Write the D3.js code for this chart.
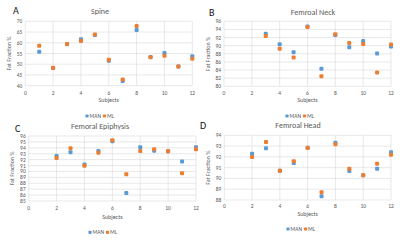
<!DOCTYPE html>
<html>
<head>
<meta charset="utf-8">
<script src="https://cdn.jsdelivr.net/npm/d3@7"></script>
<style>
  body { margin: 0; background: #fff; }
  svg { font-family: Calibri, "Liberation Sans", "DejaVu Sans", sans-serif; }
  .grid line { stroke: #d9d9d9; stroke-width: 0.6; }
  .tick-label { fill: #595959; font-size: 5.5px; }
  .axis-title { fill: #595959; font-size: 6px; }
  .chart-title { fill: #595959; font-size: 8px; }
  .panel-letter { fill: #111; font-size: 10px; }
  .legend-text { fill: #595959; font-size: 5.5px; }
</style>
</head>
<body>
<script>
var width = 400, height = 240;
var colors = {MAN: '#5B9BD5', ML: '#ED7D31'};
var xTicks = [0, 2, 4, 6, 8, 10, 12];

// A - Spine
var spineSubjects = [1, 2, 3, 4, 5, 6, 7, 8, 9, 10, 11, 12];
var spineMAN = [55.8, 48.3, 59.3, 61.6, 63.6, 51.6, 42.2, 66.0, 53.4, 55.2, 49.0, 53.7];
var spineML  = [58.6, 48.4, 59.4, 60.8, 63.9, 52.1, 42.9, 67.8, 53.2, 54.0, 48.9, 52.6];
var spineTicks = [40, 45, 50, 55, 60, 65, 70];

// B - Femroal Neck
var neckSubjects = [3, 4, 5, 6, 7, 8, 9, 10, 11, 12];
var neckMAN = [92.96, 90.34, 88.37, 94.7, 84.35, 92.6, 89.6, 91.16, 88.1, 89.8];
var neckML  = [92.4, 89.27, 87.06, 94.6, 82.46, 92.8, 90.67, 90.42, 83.4, 90.3];
var neckTicks = [80, 82, 84, 86, 88, 90, 92, 94, 96];

// C - Femoral Epiphysis
var epiSubjects = [2, 3, 4, 5, 6, 7, 8, 9, 10, 11, 12];
var epiMAN = [92.62, 93.24, 91.18, 93.46, 95.1, 86.36, 94.08, 93.5, 93.4, 91.7, 94.08];
var epiML  = [92.28, 93.91, 90.95, 93.18, 95.27, 89.51, 93.46, 93.74, 93.4, 89.68, 93.74];
var epiTicks = [85, 86, 87, 88, 89, 90, 91, 92, 93, 94, 95, 96];

// D - Femroal Head
var headSubjects = [2, 3, 4, 5, 6, 7, 8, 9, 10, 11, 12];
var headMAN = [92.3, 92.79, 90.72, 91.43, 92.85, 88.34, 93.32, 90.69, 90.29, 90.9, 92.42];
var headML  = [91.99, 93.38, 90.72, 91.59, 92.82, 88.71, 93.16, 90.9, 90.29, 91.37, 92.2];
var headTicks = [88, 89, 90, 91, 92, 93, 94];

var panels = [
    {letter: 'A', title: 'Spine', subjects: spineSubjects, man: spineMAN, ml: spineML, ticks: spineTicks,
     x0: 25.3, x1: 192.3, y0: 21.3, y1: 85.7, letterX: 13, letterY: 14, titleX: 100, titleY: 14,
     tickY: 95, subjY: 102, legY: 116, legX: 100, ylabX: 11},
    {letter: 'B', title: 'Femroal Neck', subjects: neckSubjects, man: neckMAN, ml: neckML, ticks: neckTicks,
     x0: 224, x1: 391, y0: 21.3, y1: 86.3, letterX: 209, letterY: 16, titleX: 313, titleY: 15,
     tickY: 95, subjY: 102, legY: 116, legX: 300, ylabX: 210},
    {letter: 'C', title: 'Femoral Epiphysis', subjects: epiSubjects, man: epiMAN, ml: epiML, ticks: epiTicks,
     x0: 28.7, x1: 196, y0: 136, y1: 201, letterX: 15, letterY: 132, titleX: 100, titleY: 129,
     tickY: 210, subjY: 218.5, legY: 232.3, legX: 103, ylabX: 14},
    {letter: 'D', title: 'Femroal Head', subjects: headSubjects, man: headMAN, ml: headML, ticks: headTicks,
     x0: 224.3, x1: 391, y0: 135.3, y1: 200, letterX: 200, letterY: 129, titleX: 298, titleY: 128,
     tickY: 208, subjY: 216, legY: 229, legX: 301, ylabX: 210}
];

var svg = d3.select("body").append("svg")
    .attr("width", width)
    .attr("height", height);

panels.forEach(function(p) {
    var xScale = d3.scaleLinear().domain([0, 12]).range([p.x0, p.x1]);
    var yScale = d3.scaleLinear()
        .domain([p.ticks[0], p.ticks[p.ticks.length - 1]])
        .range([p.y1, p.y0]);

    var g = svg.append("g");

    var grid = g.append("g").attr("class", "grid");
    grid.selectAll(".hg")
        .data(p.ticks)
        .enter()
        .append("line")
        .attr("x1", p.x0).attr("x2", p.x1)
        .attr("y1", function(d) { return yScale(d); })
        .attr("y2", function(d) { return yScale(d); });
    grid.selectAll(".vg")
        .data(xTicks)
        .enter()
        .append("line")
        .attr("y1", p.y0).attr("y2", p.y1)
        .attr("x1", function(d) { return xScale(d); })
        .attr("x2", function(d) { return xScale(d); });

    g.selectAll(".ytl")
        .data(p.ticks)
        .enter()
        .append("text")
        .attr("class", "tick-label")
        .attr("x", p.x0 - 3)
        .attr("y", function(d) { return yScale(d); })
        .attr("text-anchor", "end")
        .attr("dominant-baseline", "central")
        .text(function(d) { return d; });

    g.selectAll(".xtl")
        .data(xTicks)
        .enter()
        .append("text")
        .attr("class", "tick-label")
        .attr("x", function(d) { return xScale(d); })
        .attr("y", p.tickY)
        .attr("text-anchor", "middle")
        .text(function(d) { return d; });

    g.append("text")
        .attr("class", "axis-title")
        .attr("x", (p.x0 + p.x1) / 2)
        .attr("y", p.subjY)
        .attr("text-anchor", "middle")
        .text("Subjects");

    g.append("text")
        .attr("class", "axis-title")
        .attr("transform", "translate(" + p.ylabX + "," + (p.y0 + p.y1) / 2 + ") rotate(-90)")
        .attr("text-anchor", "middle")
        .text("Fat Fraction %");

    g.append("text")
        .attr("class", "chart-title")
        .attr("x", p.titleX)
        .attr("y", p.titleY)
        .attr("text-anchor", "middle")
        .text(p.title);

    g.append("text")
        .attr("class", "panel-letter")
        .attr("x", p.letterX)
        .attr("y", p.letterY)
        .text(p.letter);

    var series = [
        {name: 'MAN', values: p.man},
        {name: 'ML', values: p.ml}
    ];
    series.forEach(function(s) {
        g.selectAll(".pt-" + s.name)
            .data(s.values)
            .enter()
            .append("rect")
            .attr("x", function(d, i) { return xScale(p.subjects[i]) - 2; })
            .attr("y", function(d) { return yScale(d) - 2; })
            .attr("width", 4)
            .attr("height", 4)
            .attr("rx", 1)
            .attr("fill", colors[s.name]);
    });

    // legend
    var leg = g.append("g").attr("transform", "translate(" + (p.legX - 13) + "," + p.legY + ")");
    leg.selectAll("rect")
        .data(series)
        .enter()
        .append("rect")
        .attr("x", function(d, i) { return i * 17.5 - 1.6; })
        .attr("y", -1.6)
        .attr("width", 3.2).attr("height", 3.2).attr("rx", 0.8)
        .attr("fill", function(d) { return colors[d.name]; });
    leg.selectAll("text")
        .data(series)
        .enter()
        .append("text")
        .attr("class", "legend-text")
        .attr("x", function(d, i) { return i * 17.5 + 2.5; })
        .attr("y", 0)
        .attr("dominant-baseline", "central")
        .text(function(d) { return d.name; });
});
</script>
</body>
</html>
